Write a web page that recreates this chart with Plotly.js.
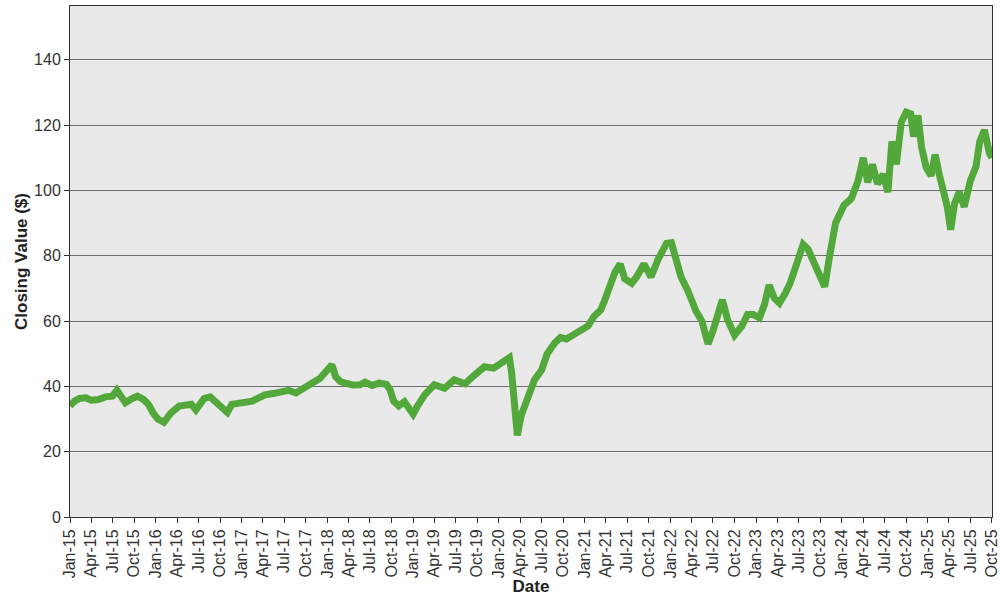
<!DOCTYPE html>
<html>
<head>
<meta charset="utf-8">
<script src="https://cdn.plot.ly/plotly-3.0.1.min.js"></script>
<style>html,body{margin:0;padding:0;background:#fff;}#chart{width:1000px;height:600px;}</style>
</head>
<body>
<div id="chart"></div>
<script>
const dates = [
'2015-01-01','2015-01-20','2015-02-10','2015-03-10','2015-04-01','2015-05-01','2015-06-01','2015-07-01','2015-07-20','2015-08-10','2015-08-25','2015-09-20','2015-10-15','2015-11-10','2015-12-01','2015-12-20',
'2016-01-10','2016-02-05','2016-03-05','2016-04-10','2016-05-10','2016-06-01','2016-06-20','2016-07-25','2016-08-20','2016-09-20','2016-10-15','2016-11-01','2016-11-20','2016-12-20',
'2017-01-20','2017-02-15','2017-03-15','2017-04-10','2017-05-15','2017-06-20','2017-07-20','2017-08-20','2017-09-10','2017-10-05','2017-11-01','2017-12-01','2017-12-25',
'2018-01-20','2018-02-05','2018-02-25','2018-03-20','2018-04-20','2018-05-20','2018-06-10','2018-07-10','2018-08-10','2018-09-10','2018-09-25','2018-10-10','2018-11-01','2018-11-25','2018-12-20',
'2019-01-01','2019-01-20','2019-02-20','2019-04-01','2019-05-15','2019-06-25','2019-08-10','2019-09-20','2019-11-01','2019-12-10',
'2020-01-10','2020-02-15','2020-02-25','2020-03-05','2020-03-20','2020-04-05','2020-05-01','2020-06-01','2020-07-01','2020-07-25','2020-08-25','2020-09-20','2020-10-15','2020-11-15','2020-12-10',
'2021-01-15','2021-02-10','2021-03-10','2021-03-25','2021-04-15','2021-05-10','2021-06-01','2021-06-20','2021-07-20','2021-08-10','2021-09-10','2021-10-10','2021-11-10','2021-12-15',
'2022-01-05','2022-01-25','2022-02-15','2022-03-15','2022-04-20','2022-05-15','2022-06-10','2022-07-01','2022-07-25','2022-08-10','2022-09-01','2022-10-01','2022-11-01','2022-11-25','2022-12-20',
'2023-01-15','2023-02-05','2023-02-25','2023-03-20','2023-04-10','2023-05-05','2023-05-25','2023-06-20','2023-07-20','2023-08-10','2023-09-05','2023-10-01','2023-10-20','2023-11-10','2023-12-05',
'2024-01-10','2024-02-10','2024-03-10','2024-04-01','2024-04-20','2024-05-10','2024-06-01','2024-06-25','2024-07-15','2024-08-01','2024-08-20','2024-09-10','2024-10-01','2024-10-20','2024-11-01','2024-11-20','2024-12-05','2024-12-25',
'2025-01-15','2025-02-01','2025-02-20','2025-03-10','2025-03-25','2025-04-08','2025-04-25','2025-05-15','2025-06-05','2025-07-01','2025-07-25','2025-08-10','2025-08-30','2025-09-20','2025-10-01'
];
const closingValues = [
34,35.5,36.3,36.5,35.8,36,36.8,37,38.8,36.5,35,36.2,37,36,34.5,32,
30,29,31.8,34,34.3,34.5,32.8,36.3,36.8,35,33.5,32,34.5,35,
35,35.5,36.5,37.4,37.8,38.3,38.8,38,39,40.4,41.5,42.5,44.5,
46.6,43,41.5,41,40.4,40.5,41.3,40.3,41,40.6,39,35.5,34,35.3,33,
31.5,34,37.5,40.5,39.4,42,40.8,43.5,46,45.6,
47,48.8,44,36,25,31,36,42,45,50,53.2,55,54.5,55.7,57,
58.5,61.5,63.4,66,70,75,77.5,73,71.6,73.5,77.5,73.5,79,83.8,
84,79,73.5,69.5,63,60,53,57,62,66.5,60.5,55.7,58.5,62,62,
61,65,71,67,65.5,68.5,71.5,77,83.5,82,77.5,73.5,70.5,80,90,
95.5,97.5,103,110,102.5,108,102,105,99.5,115,108,121,124,123.5,116.5,123,113.4,107,
104.5,111,104.5,100,95,88,96,99.5,95,103,107.3,115,118.5,111.5,110
];
const yTicks = [0,20,40,60,80,100,120,140];

const trace = {
  x: dates, y: closingValues, type: 'scatter', mode: 'lines',
  line: {color: '#53a83c', width: 7}, hoverinfo: 'x+y'
};
const fnt = 'Arial, "Liberation Sans", sans-serif';
const layout = {
  width: 1000, height: 600,
  margin: {l: 70, r: 8, t: 6, b: 83},
  paper_bgcolor: '#ffffff', plot_bgcolor: '#e9e9e9',
  showlegend: false,
  font: {family: fnt, size: 16, color: '#333333'},
  xaxis: {
    type: 'date', range: ['2015-01-01', '2025-10-01 06:00'],
    tick0: '2015-01-01', dtick: 'M3', tickformat: '%b-%y', tickangle: -90,
    ticklabeloverflow: 'allow',
    ticks: 'outside', ticklen: 5, tickcolor: '#333',
    showgrid: false, zeroline: false,
    showline: true, linecolor: '#333', linewidth: 1, mirror: true,
    tickfont: {family: fnt, size: 16, color: '#333'},
    title: {text: '<b>Date</b>', font: {family: fnt, size: 17, color: '#222'}, standoff: 0}
  },
  yaxis: {
    range: [0, 156.5], tickvals: yTicks,
    ticks: 'outside', ticklen: 5, tickcolor: '#333',
    showgrid: true, gridcolor: '#6e6e6e', gridwidth: 1, zeroline: false,
    showline: true, linecolor: '#333', linewidth: 1, mirror: true,
    tickfont: {family: fnt, size: 16, color: '#333'},
    title: {text: '<b>Closing Value ($)</b>', font: {family: fnt, size: 17, color: '#222'}, standoff: 2}
  }
};
Plotly.newPlot('chart', [trace], layout, {staticPlot: true, displayModeBar: false});
</script>
</body>
</html>
